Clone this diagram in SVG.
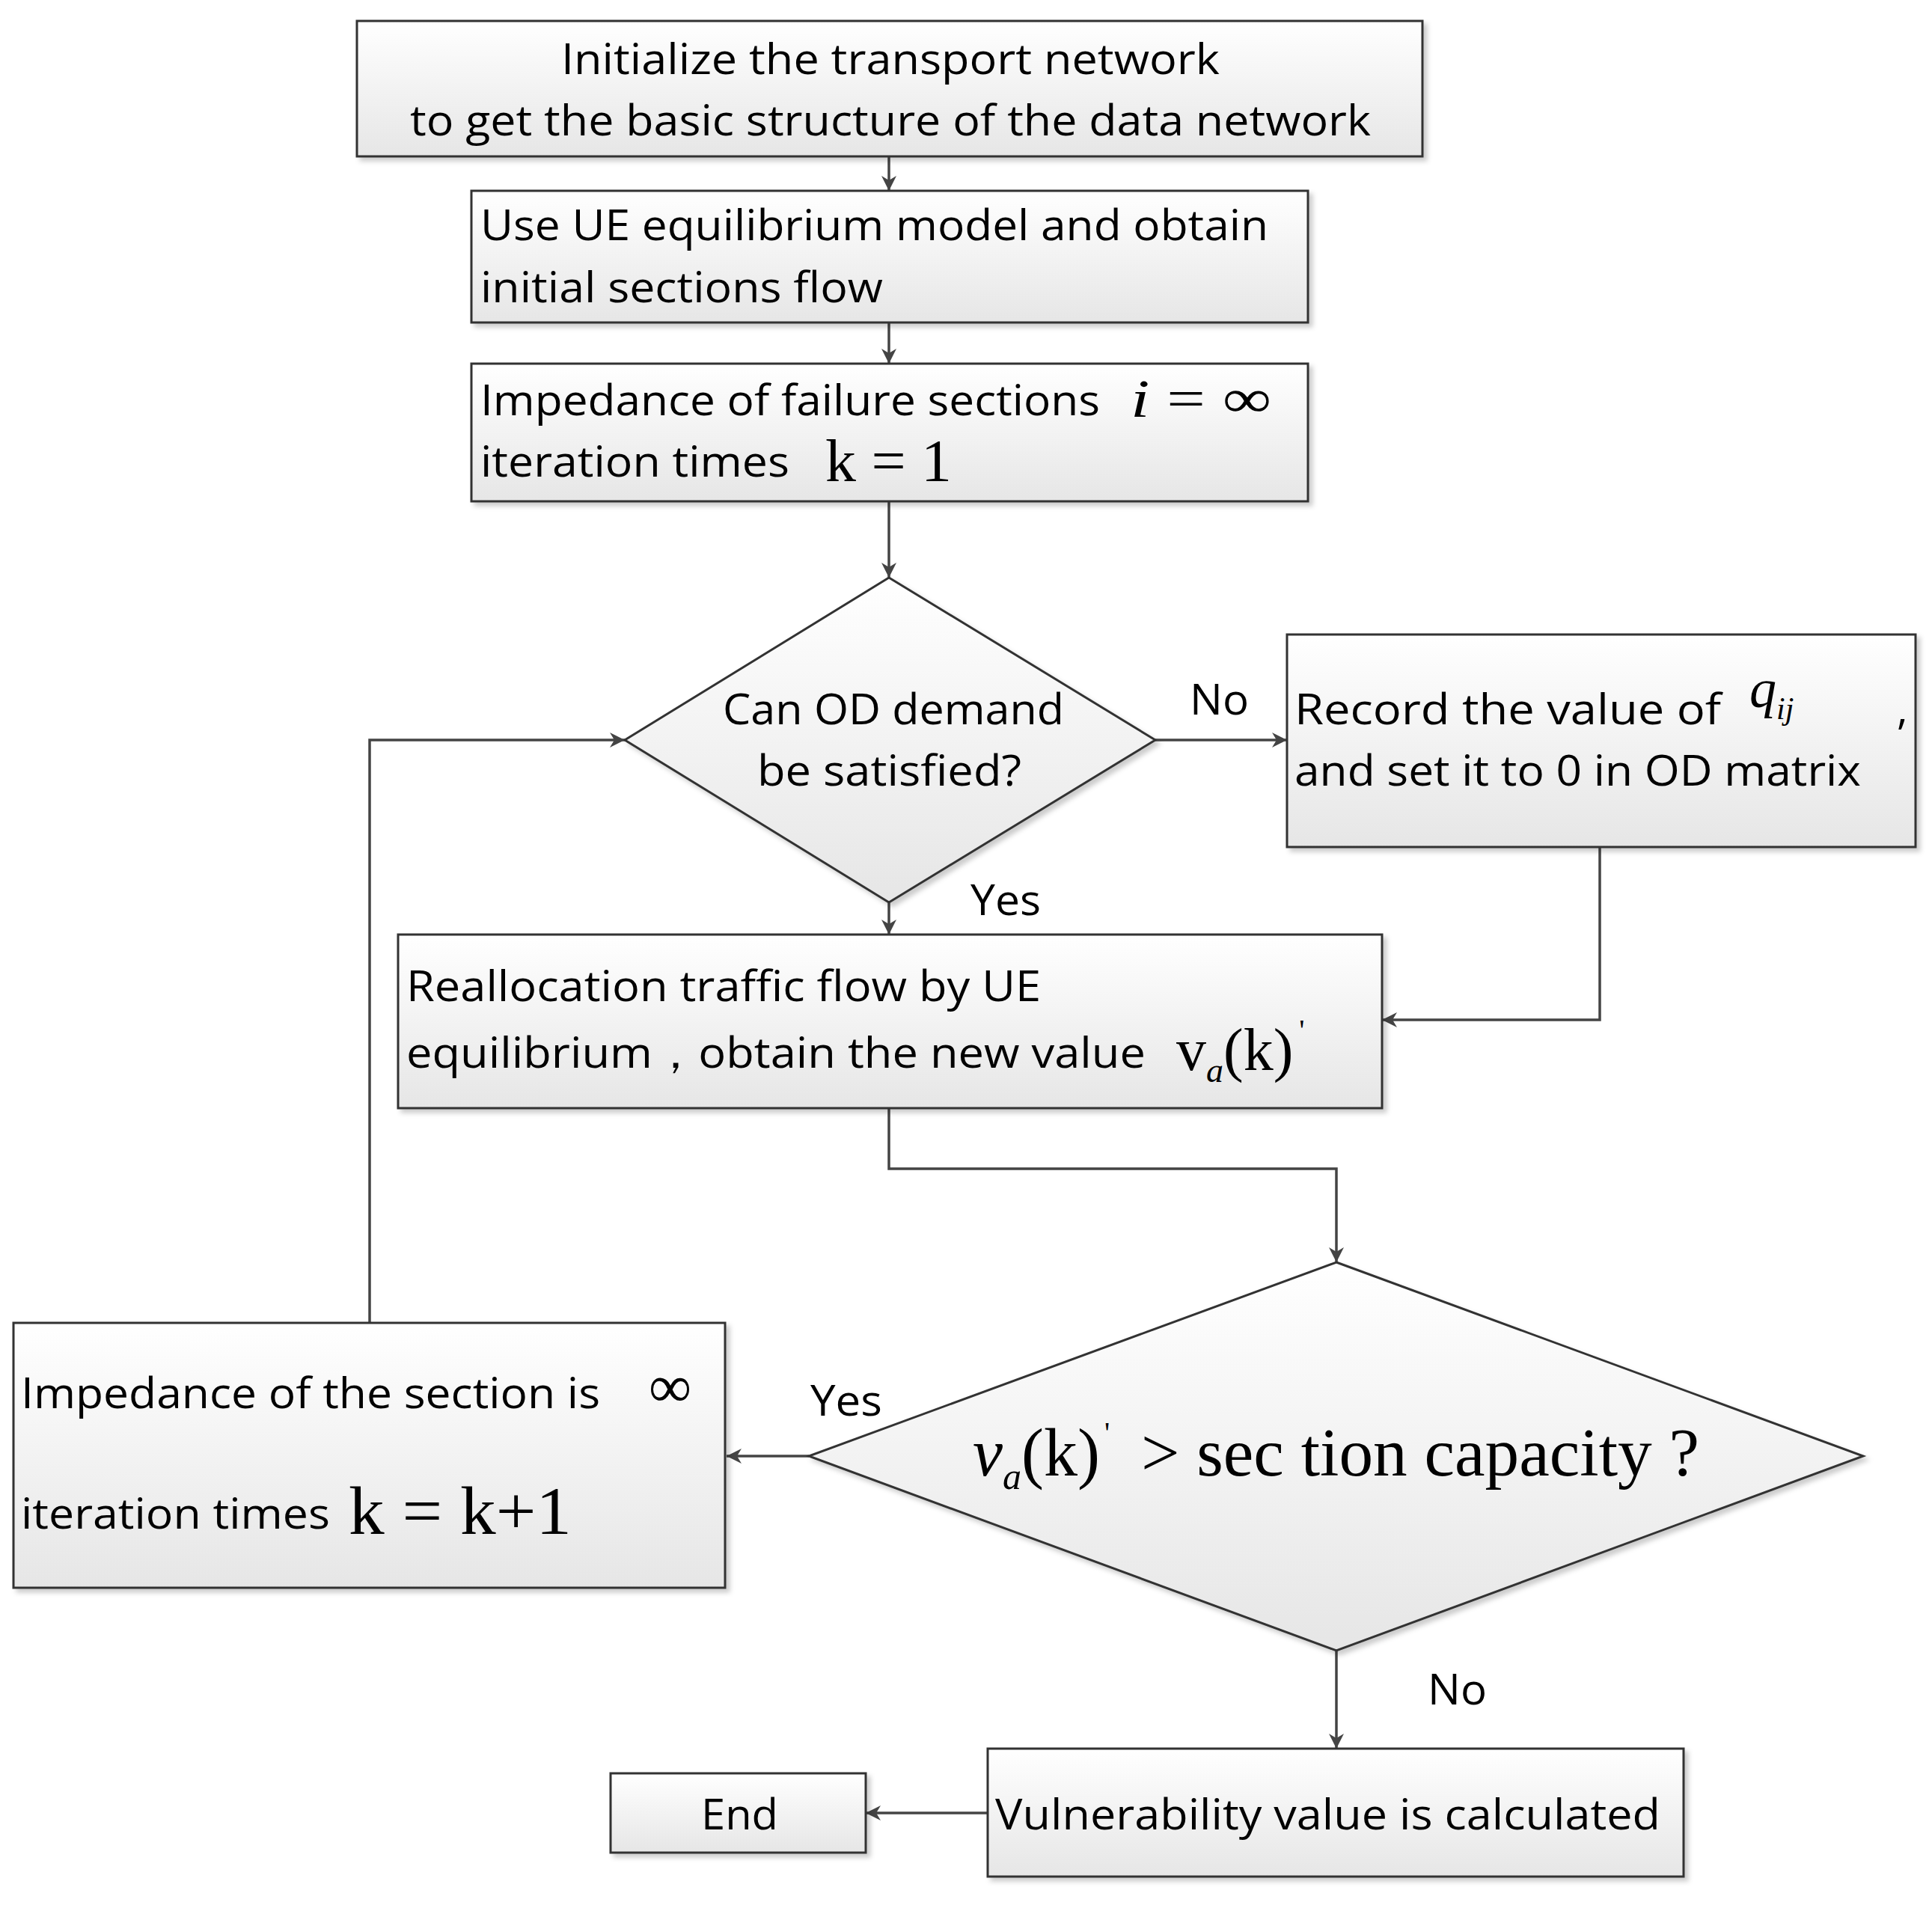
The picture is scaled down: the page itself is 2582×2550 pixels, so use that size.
<svg xmlns="http://www.w3.org/2000/svg" width="2582" height="2550" viewBox="0 0 2582 2550">
<style>
.n{fill:url(#g);stroke:#333;stroke-width:3;filter:url(#sh)}
.t{font-family:"Open Sans","Liberation Sans",sans-serif;font-size:56px;fill:#000}
.m{font-family:"Liberation Serif","DejaVu Serif",serif;fill:#000}
.c{fill:none;stroke:#444;stroke-width:3.5;marker-end:url(#a)}
</style>
<defs>
<linearGradient id="g" x1="0" y1="0" x2="0" y2="1"><stop offset="0" stop-color="#ffffff"/><stop offset="1" stop-color="#e6e6e6"/></linearGradient>
<filter id="sh" x="-5%" y="-5%" width="115%" height="120%"><feDropShadow dx="5" dy="5" stdDeviation="3" flood-color="#000" flood-opacity="0.2"/></filter>
<marker id="a" viewBox="0 0 10 10" refX="10" refY="5" markerWidth="24" markerHeight="20" markerUnits="userSpaceOnUse" orient="auto"><path d="M0,0 L10,5 L0,10 L3,5 z" fill="#444"/></marker>
</defs>
<rect width="2582" height="2550" fill="#fff"/>
<g id="connectors">
<path class="c" d="M1188,209 V255"/>
<path class="c" d="M1188,431 V486"/>
<path class="c" d="M1188,670 V772"/>
<path class="c" d="M1544,989 H1720"/>
<path class="c" d="M1188,1206 V1249"/>
<path class="c" d="M2138,1132 V1363 H1847"/>
<path class="c" d="M1188,1481 V1562 H1786 V1687"/>
<path class="c" d="M1081,1946 H971"/>
<path class="c" d="M494,1768 V989 H835"/>
<path class="c" d="M1786,2206 V2337"/>
<path class="c" d="M1320,2423 H1157"/>
<text class="t" x="1590" y="955" textLength="79" lengthAdjust="spacingAndGlyphs">No</text>
<text class="t" x="1297" y="1223" textLength="94" lengthAdjust="spacingAndGlyphs">Yes</text>
<text class="t" x="1083" y="1892" textLength="96" lengthAdjust="spacingAndGlyphs">Yes</text>
<text class="t" x="1908" y="2278" textLength="79" lengthAdjust="spacingAndGlyphs">No</text>
</g>
<g id="n1"><rect class="n" x="477" y="28" width="1424" height="181"/>
<text class="t" x="750" y="99" textLength="880" lengthAdjust="spacingAndGlyphs">Initialize the transport network</text>
<text class="t" x="548" y="181" textLength="1284" lengthAdjust="spacingAndGlyphs">to get the basic structure of the data network</text></g>
<g id="n2"><rect class="n" x="630" y="255" width="1118" height="176"/>
<text class="t" x="642" y="321" textLength="1053" lengthAdjust="spacingAndGlyphs">Use UE equilibrium model and obtain</text>
<text class="t" x="642" y="404" textLength="538" lengthAdjust="spacingAndGlyphs">initial sections flow</text></g>
<g id="n3"><rect class="n" x="630" y="486" width="1118" height="184"/>
<text class="t" x="642" y="555" textLength="828" lengthAdjust="spacingAndGlyphs">Impedance of failure sections</text>
<text class="m" x="1511" y="557" font-size="72" textLength="188" lengthAdjust="spacingAndGlyphs"><tspan font-style="italic">i</tspan> = ∞</text>
<text class="t" x="642" y="637" textLength="413" lengthAdjust="spacingAndGlyphs">iteration times</text>
<text class="m" x="1103" y="643" font-size="80" textLength="169" lengthAdjust="spacingAndGlyphs">k = 1</text></g>
<g id="d1"><polygon class="n" points="1188,772 1544,989 1188,1206 835,989"/>
<text class="t" x="966" y="968" textLength="456" lengthAdjust="spacingAndGlyphs">Can OD demand</text>
<text class="t" x="1012" y="1050" textLength="353" lengthAdjust="spacingAndGlyphs">be satisfied?</text></g>
<g id="n4"><rect class="n" x="1720" y="848" width="840" height="284"/>
<text class="t" x="1730" y="968" textLength="570" lengthAdjust="spacingAndGlyphs">Record the value of</text>
<text class="m" x="2338" y="945" font-size="72" font-style="italic">q<tspan font-size="42" dy="16">ij</tspan></text>
<text class="t" x="2535" y="968">,</text>
<text class="t" x="1730" y="1050" textLength="757" lengthAdjust="spacingAndGlyphs">and set it to 0 in OD matrix</text></g>
<g id="n5"><rect class="n" x="532" y="1249" width="1315" height="232"/>
<text class="t" x="543" y="1338" textLength="848" lengthAdjust="spacingAndGlyphs">Reallocation traffic flow by UE</text>
<text class="t" x="543" y="1427" textLength="988" lengthAdjust="spacingAndGlyphs">equilibrium，obtain the new value</text>
<text class="m" x="1572" y="1430" font-size="80">v<tspan font-size="46" font-style="italic" dy="16">a</tspan><tspan dy="-16">(k)</tspan><tspan font-size="40" dy="-40" dx="8">'</tspan></text></g>
<g id="d2"><polygon class="n" points="1786,1687 2490,1946 1786,2206 1081,1946"/>
<text class="m" x="1300" y="1972" font-size="90"><tspan font-style="italic">v</tspan><tspan font-size="50" font-style="italic" dy="18">a</tspan><tspan dy="-18">(k)</tspan><tspan font-size="40" dy="-44" dx="6">'</tspan><tspan dy="44" x="1525" textLength="746" lengthAdjust="spacingAndGlyphs">&gt; sec tion capacity ?</tspan></text></g>
<g id="n6"><rect class="n" x="18" y="1768" width="951" height="354"/>
<text class="t" x="28" y="1882" textLength="774" lengthAdjust="spacingAndGlyphs">Impedance of the section is</text>
<text class="m" x="867" y="1880" font-size="80">∞</text>
<text class="t" x="28" y="2043" textLength="413" lengthAdjust="spacingAndGlyphs">iteration times</text>
<text class="m" x="466" y="2050" font-size="90" textLength="298" lengthAdjust="spacingAndGlyphs">k = k+1</text></g>
<g id="n7"><rect class="n" x="1320" y="2337" width="930" height="171"/>
<text class="t" x="1330" y="2445" textLength="889" lengthAdjust="spacingAndGlyphs">Vulnerability value is calculated</text></g>
<g id="n8"><rect class="n" x="816" y="2370" width="341" height="106"/>
<text class="t" x="937" y="2445" textLength="103" lengthAdjust="spacingAndGlyphs">End</text></g>
</svg>
